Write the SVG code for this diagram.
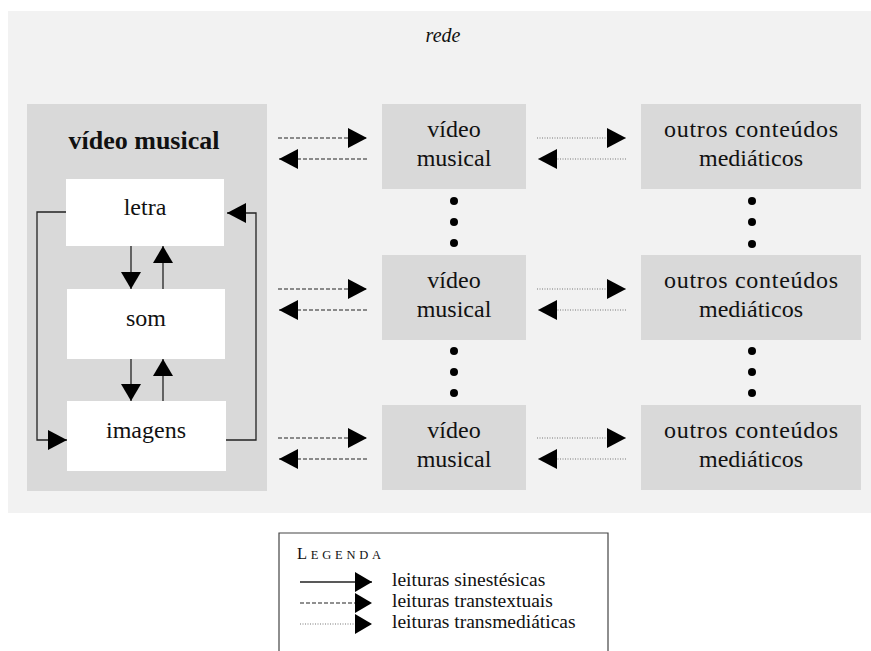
<svg xmlns="http://www.w3.org/2000/svg" width="871" height="651" viewBox="0 0 871 651" font-family="'Liberation Serif', 'DejaVu Serif', 'Times New Roman', serif">
<style>
  text { font-family: "Liberation Serif", "DejaVu Serif", "Times New Roman", serif; fill: #111; }
  .t { font-size: 24px; text-anchor: middle; }
  .b { font-size: 26px; font-weight: bold; text-anchor: middle; }
  .box { fill: #d9d9d9; }
  .inner { fill: #ffffff; }
  .solid { stroke: #222; stroke-width: 1.3; fill: none; }
  .dash { stroke: #222; stroke-width: 1.2; stroke-dasharray: 4 2; fill: none; }
  .dot { stroke: #777; stroke-width: 1; stroke-dasharray: 1 1.5; fill: none; }
  .head { fill: #000; }
  .bullet { fill: #000; }
  .lg { font-size: 19.5px; }
</style>
<defs>
  <marker id="ah" markerUnits="userSpaceOnUse" markerWidth="19" markerHeight="20" refX="19" refY="10" orient="auto" viewBox="0 0 19 20">
    <path d="M0,0 L19,10 L0,20 z" class="head"/>
  </marker>
  <marker id="ahs" markerUnits="userSpaceOnUse" markerWidth="17" markerHeight="20" refX="17" refY="10" orient="auto" viewBox="0 0 17 20">
    <path d="M0,0 L17,10 L0,20 z" class="head"/>
  </marker>
</defs>

<g id="rede">
  <rect x="8" y="11" width="863" height="502" fill="#f2f2f2"/>
  <text x="443" y="42" font-size="20" font-style="italic" text-anchor="middle">rede</text>
</g>

<g id="video-musical-main">
  <rect x="27" y="104" width="240" height="387" class="box"/>
  <text x="144" y="149" class="b">vídeo musical</text>
</g>
<g id="letra">
  <rect x="66" y="179" width="158" height="67" class="inner"/>
  <text x="145" y="215" class="t">letra</text>
</g>
<g id="som">
  <rect x="67" y="289" width="158" height="70" class="inner"/>
  <text x="146" y="326" class="t">som</text>
</g>
<g id="imagens">
  <rect x="67" y="401" width="159" height="70" class="inner"/>
  <text x="146" y="438" class="t">imagens</text>
</g>

<g id="video-musical-1">
  <rect x="382" y="104" width="144" height="85" class="box"/>
  <text x="454" y="137" class="t">vídeo</text>
  <text x="454" y="166" class="t">musical</text>
</g>
<g id="video-musical-2">
  <rect x="382" y="255" width="144" height="85" class="box"/>
  <text x="454" y="288" class="t">vídeo</text>
  <text x="454" y="317" class="t">musical</text>
</g>
<g id="video-musical-3">
  <rect x="382" y="405" width="144" height="85" class="box"/>
  <text x="454" y="438" class="t">vídeo</text>
  <text x="454" y="467" class="t">musical</text>
</g>

<g id="outros-1">
  <rect x="641" y="104" width="220" height="85" class="box"/>
  <text x="751" y="137" class="t" textLength="174" lengthAdjust="spacing">outros conteúdos</text>
  <text x="751" y="166" class="t">mediáticos</text>
</g>
<g id="outros-2">
  <rect x="641" y="255" width="220" height="85" class="box"/>
  <text x="751" y="288" class="t" textLength="174" lengthAdjust="spacing">outros conteúdos</text>
  <text x="751" y="317" class="t">mediáticos</text>
</g>
<g id="outros-3">
  <rect x="641" y="405" width="220" height="85" class="box"/>
  <text x="751" y="438" class="t" textLength="174" lengthAdjust="spacing">outros conteúdos</text>
  <text x="751" y="467" class="t">mediáticos</text>
</g>

<g id="ellipses">
  <circle cx="454" cy="201" r="4" class="bullet"/>
  <circle cx="454" cy="222" r="4" class="bullet"/>
  <circle cx="454" cy="243" r="4" class="bullet"/>
  <circle cx="454" cy="351" r="4" class="bullet"/>
  <circle cx="454" cy="372" r="4" class="bullet"/>
  <circle cx="454" cy="393" r="4" class="bullet"/>
  <circle cx="752" cy="201" r="4" class="bullet"/>
  <circle cx="752" cy="222" r="4" class="bullet"/>
  <circle cx="752" cy="244" r="4" class="bullet"/>
  <circle cx="752" cy="351" r="4" class="bullet"/>
  <circle cx="752" cy="372" r="4" class="bullet"/>
  <circle cx="752" cy="393" r="4" class="bullet"/>
</g>

<g id="connectors">
  <line x1="131" y1="246" x2="131" y2="289" class="solid" marker-end="url(#ahs)"/>
  <line x1="163" y1="289" x2="163" y2="246" class="solid" marker-end="url(#ahs)"/>
  <line x1="131" y1="359" x2="131" y2="401" class="solid" marker-end="url(#ahs)"/>
  <line x1="163" y1="401" x2="163" y2="359" class="solid" marker-end="url(#ahs)"/>
  <polyline points="66,212 37,212 37,440 67,440" class="solid" marker-end="url(#ah)"/>
  <polyline points="226,440 256,440 256,213 227,213" class="solid" marker-end="url(#ah)"/>
  <line x1="278" y1="138" x2="367" y2="138" class="dash" marker-end="url(#ah)"/>
  <line x1="367" y1="159" x2="279" y2="159" class="dash" marker-end="url(#ah)"/>
  <line x1="278" y1="289" x2="367" y2="289" class="dash" marker-end="url(#ah)"/>
  <line x1="367" y1="310" x2="279" y2="310" class="dash" marker-end="url(#ah)"/>
  <line x1="278" y1="438" x2="367" y2="438" class="dash" marker-end="url(#ah)"/>
  <line x1="367" y1="459" x2="279" y2="459" class="dash" marker-end="url(#ah)"/>
  <line x1="537" y1="138" x2="626" y2="138" class="dot" marker-end="url(#ah)"/>
  <line x1="626" y1="159" x2="538" y2="159" class="dot" marker-end="url(#ah)"/>
  <line x1="537" y1="289" x2="626" y2="289" class="dot" marker-end="url(#ah)"/>
  <line x1="626" y1="310" x2="538" y2="310" class="dot" marker-end="url(#ah)"/>
  <line x1="537" y1="438" x2="626" y2="438" class="dot" marker-end="url(#ah)"/>
  <line x1="626" y1="459" x2="538" y2="459" class="dot" marker-end="url(#ah)"/>
</g>

<g id="legenda">
  <polyline points="279,652 279,533 608,533 608,652" fill="#fff" stroke="#444" stroke-width="1.2"/>
  <text x="297" y="559" textLength="84" lengthAdjust="spacing"><tspan font-size="16.5">L</tspan><tspan font-size="12.5">EGENDA</tspan></text>
  <line x1="300" y1="582" x2="372" y2="582" class="solid" marker-end="url(#ahs)"/>
  <line x1="300" y1="603" x2="372" y2="603" class="dash" marker-end="url(#ahs)"/>
  <line x1="300" y1="624" x2="372" y2="624" class="dot" marker-end="url(#ahs)"/>
  <text x="392" y="586" class="lg">leituras sinestésicas</text>
  <text x="392" y="607" class="lg">leituras transtextuais</text>
  <text x="392" y="628" class="lg">leituras transmediáticas</text>
</g>
</svg>
